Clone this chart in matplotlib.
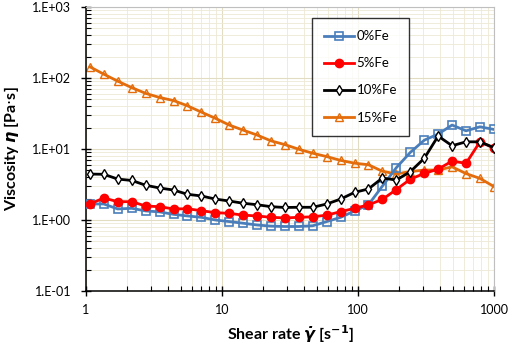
import math

import matplotlib
matplotlib.use("Agg")
import matplotlib.pyplot as plt
from matplotlib.ticker import FixedLocator, FuncFormatter, LogLocator, NullFormatter

plt.rcParams["font.family"] = ["Lato", "DejaVu Sans"]
plt.rcParams["mathtext.fontset"] = "dejavusans"

# shear rate [1/s]
shear_rate = [1.07, 1.35, 1.71, 2.17, 2.75, 3.48, 4.40, 5.57, 7.05, 8.93,
              11.3, 14.3, 18.1, 22.9, 29.0, 36.7, 46.5, 58.9, 74.5, 94.3,
              119, 151, 191, 242, 307, 388, 491, 622, 787, 1000]

# viscosity [Pa s]
fe0 = [1.68, 1.68, 1.43, 1.46, 1.34, 1.30, 1.20, 1.14, 1.09, 1.00,
       0.95, 0.90, 0.85, 0.82, 0.81, 0.81, 0.83, 0.95, 1.09, 1.34,
       1.63, 3.0, 5.44, 8.93, 13.3, 16.2, 21.7, 18.0, 20.5, 18.8]
fe5 = [1.68, 2.04, 1.81, 1.81, 1.57, 1.54, 1.43, 1.44, 1.35, 1.27,
       1.24, 1.17, 1.14, 1.09, 1.07, 1.09, 1.11, 1.17, 1.31, 1.46,
       1.63, 1.95, 2.68, 3.75, 4.53, 5.2, 6.75, 6.27, 12.6, 10.3]
fe10 = [4.43, 4.40, 3.77, 3.60, 3.08, 2.82, 2.64, 2.30, 2.18, 1.97,
        1.85, 1.72, 1.64, 1.54, 1.50, 1.51, 1.51, 1.68, 1.97, 2.45,
        2.73, 3.9, 3.65, 4.78, 7.4, 15.2, 11.1, 12.6, 12.6, 10.4]
fe15 = [143, 113, 90, 73, 60.5, 53, 48, 40.5, 33, 27,
        21.7, 18.4, 15.7, 13, 11.5, 9.9, 8.7, 7.8, 6.9, 6.3,
        6.0, 4.85, 4.45, 4.8, 5.05, 5.05, 5.6, 4.5, 3.85, 2.95]

fig = plt.figure(figsize=(5.12, 3.44), dpi=100)
ax = fig.add_axes([0.168, 0.154, 0.797, 0.826])

ax.plot(shear_rate, fe0, color="#4A7EBB", lw=2, marker="s", ms=6,
        mfc="none", mec="#4A7EBB", mew=1.2, label="0%Fe", zorder=3)
ax.plot(shear_rate, fe5, color="#FF0000", lw=2, marker="o", ms=6,
        mfc="#FF0000", mec="#FF0000", label="5%Fe", zorder=4)
ax.plot(shear_rate, fe10, color="black", lw=2, marker="d", ms=5.5,
        mfc="white", mec="black", mew=1, label="10%Fe", zorder=5)
ax.plot(shear_rate, fe15, color="#E46C0A", lw=2, marker="^", ms=6,
        mfc="none", mec="#E46C0A", mew=1, label="15%Fe", zorder=2)

ax.set_xscale("log")
ax.set_yscale("log")
ax.set_xlim(1, 1000)
ax.set_ylim(0.1, 1000)

ax.xaxis.set_major_locator(FixedLocator([1, 10, 100, 1000]))
ax.xaxis.set_major_formatter(FuncFormatter(lambda v, p: f"{v:g}"))
ax.yaxis.set_major_locator(FixedLocator([0.1, 1, 10, 100, 1000]))
ax.yaxis.set_major_formatter(
    FuncFormatter(lambda v, p: "1.E{:+03d}".format(int(round(math.log10(v))))))
for axis in (ax.xaxis, ax.yaxis):
    axis.set_minor_locator(LogLocator(base=10, subs=range(2, 10)))
    axis.set_minor_formatter(NullFormatter())

ax.grid(True, which="major", color="#E2DCC2", lw=0.8)
ax.grid(True, which="minor", color="#EDE9D6", lw=0.6)
ax.set_axisbelow(True)

ax.tick_params(which="major", direction="inout", length=7, width=1, labelsize=9,
               colors="black")
ax.tick_params(axis="x", which="major", pad=6)
ax.tick_params(axis="y", which="major", pad=7)
ax.tick_params(which="minor", direction="in", length=3.5, width=0.8)
for s in ("top", "right"):
    ax.spines[s].set_color("#BFBFBF")
    ax.spines[s].set_linewidth(0.8)
for s in ("left", "bottom"):
    ax.spines[s].set_linewidth(1.1)

ax.set_xlabel(r"Shear rate $\mathbfit{\dot{\gamma}}$ [s$^{\mathbf{-1}}$]",
              fontsize=11.5, fontweight="bold", labelpad=5)
ax.set_ylabel(r"Viscosity $\mathbfit{\eta}$ [Pa$\cdot$s]",
              fontsize=11.5, fontweight="bold", labelpad=8)

leg = ax.legend(loc="upper left", bbox_to_anchor=(0.553, 0.96), fontsize=9.5,
                frameon=True, fancybox=False, edgecolor="black",
                borderpad=0.9, labelspacing=1.15, handlelength=2.3,
                handletextpad=0.2, borderaxespad=0)
leg.get_frame().set_linewidth(1)

fig.savefig("out.png", dpi=100)
